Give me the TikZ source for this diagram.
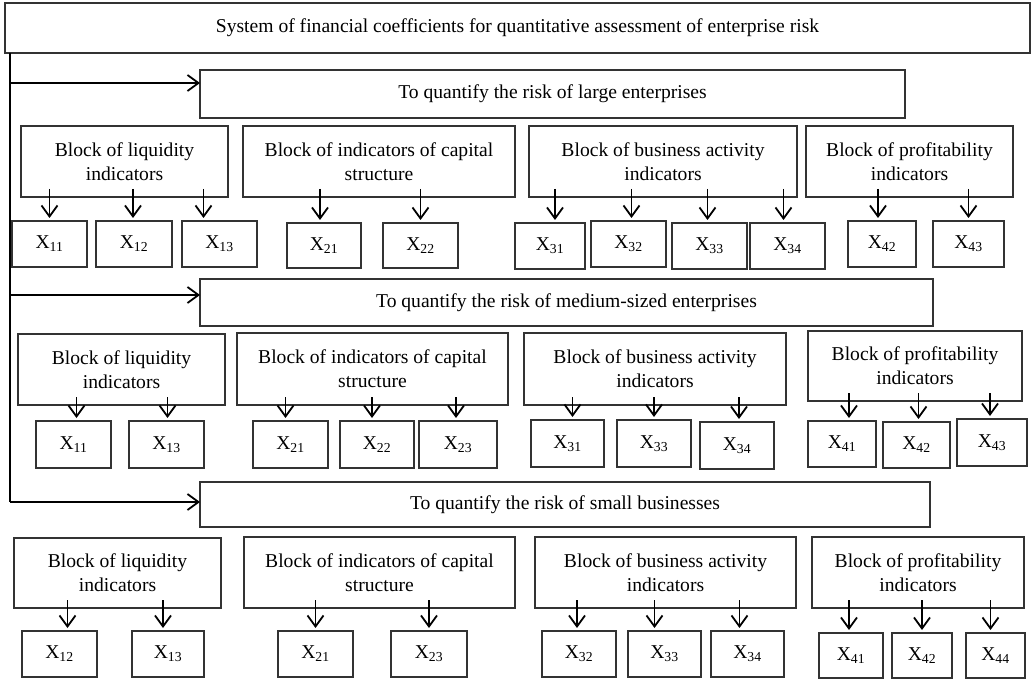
\documentclass[tikz,border=0pt]{standalone}
\usepackage{fontspec}
\setmainfont{Liberation Serif}
\usetikzlibrary{arrows.meta,calc}
\newcommand\bx[6]{\node[box,minimum width={#4-#2},minimum height={#5-#3}] (#1) at ({(#2+#4)/2},{(#3+#5)/2}) {#6};}
\newcommand\dn[3]{\draw[arr] ($(#2.north |- #1.south)+(#3,-8)$) -- ($(#2.north)+(#3,-3)$);}
\newcommand\xs[1]{X\textsubscript{#1}}
\begin{document}
\begin{tikzpicture}[x=1pt,y=-1pt,
  box/.style={draw=black!80,line width=1.1pt,inner sep=0pt,outer sep=0pt,align=center,
    font=\fontsize{19.6}{24}\selectfont},
  arr/.style={draw=black,line width=1.8pt,-{Straight Barb[length=11pt,width=16pt]}},
  conn/.style={draw=black,line width=1.8pt}]
\useasboundingbox (0,0) rectangle (1033,679);
% top and level boxes
\bx{top}{5}{3}{1030}{53}{System of financial coefficients for quantitative assessment of enterprise risk}
\bx{large}{200}{70}{905}{118}{To quantify the risk of large enterprises}
\bx{medium}{200}{279}{933}{326}{To quantify the risk of medium-sized enterprises}
\bx{small}{200}{482}{930}{527}{To quantify the risk of small businesses}
% connectors from the top box
\coordinate (v) at ($(top.south west)+(5,0)$);
\coordinate (a1) at ($(large.north west)+(0,13)$);
\coordinate (a2) at ($(medium.north west)+(0,16)$);
\coordinate (a3) at ($(small.north west)+(0,20)$);
\draw[conn] (v) -- (v |- a3);
\draw[arr] (v |- a1) -- (a1);
\draw[arr] (v |- a2) -- (a2);
\draw[arr] (v |- a3) -- (a3);
% row 1: large enterprises
\bx{lA}{21}{126}{228}{197}{Block of liquidity\\indicators}
\bx{cA}{243}{126}{515}{197}{Block of indicators of capital\\structure}
\bx{bA}{529}{126}{797}{197}{Block of business activity\\indicators}
\bx{pA}{806}{126}{1013}{197}{Block of profitability\\indicators}
\bx{xA11}{12}{221}{87}{267}{\xs{11}}
\bx{xA12}{96}{221}{172}{267}{\xs{12}}
\bx{xA13}{182}{221}{257}{267}{\xs{13}}
\bx{xA21}{287}{223}{361}{268}{\xs{21}}
\bx{xA22}{383}{223}{458}{268}{\xs{22}}
\bx{xA31}{515}{223}{585}{269}{\xs{31}}
\bx{xA32}{591}{221}{666}{267}{\xs{32}}
\bx{xA33}{672}{223}{747}{269}{\xs{33}}
\bx{xA34}{750}{223}{825}{269}{\xs{34}}
\bx{xA42}{848}{221}{916}{267}{\xs{42}}
\bx{xA43}{933}{221}{1004}{267}{\xs{43}}
\dn{lA}{xA11}{0}
\dn{lA}{xA12}{-1}
\dn{lA}{xA13}{-16}
\dn{cA}{xA21}{-4}
\dn{cA}{xA22}{0}
\dn{bA}{xA31}{5}
\dn{bA}{xA32}{3}
\dn{bA}{xA33}{-2}
\dn{bA}{xA34}{-4}
\dn{pA}{xA42}{-4}
\dn{pA}{xA43}{0}
% row 2: medium-sized enterprises
\bx{lB}{18}{334}{225}{405}{Block of liquidity\\indicators}
\bx{cB}{237}{333}{508}{405}{Block of indicators of capital\\structure}
\bx{bB}{524}{333}{786}{405}{Block of business activity\\indicators}
\bx{pB}{808}{331}{1022}{401}{Block of profitability\\indicators}
\bx{xB11}{36}{421}{111}{468}{\xs{11}}
\bx{xB13}{129}{421}{204}{468}{\xs{13}}
\bx{xB21}{253}{421}{328}{468}{\xs{21}}
\bx{xB22}{340}{421}{414}{468}{\xs{22}}
\bx{xB23}{419}{421}{497}{468}{\xs{23}}
\bx{xB31}{531}{420}{604}{467}{\xs{31}}
\bx{xB33}{617}{420}{691}{467}{\xs{33}}
\bx{xB34}{700}{422}{774}{469}{\xs{34}}
\bx{xB41}{808}{421}{876}{467}{\xs{41}}
\bx{xB42}{883}{422}{950}{468}{\xs{42}}
\bx{xB43}{957}{419}{1027}{466}{\xs{43}}
\dn{lB}{xB11}{3}
\dn{lB}{xB13}{1}
\dn{cB}{xB21}{-5}
\dn{cB}{xB22}{-5}
\dn{cB}{xB23}{-2}
\dn{bB}{xB31}{5}
\dn{bB}{xB33}{0}
\dn{bB}{xB34}{2}
\dn{pB}{xB41}{7}
\dn{pB}{xB42}{2}
\dn{pB}{xB43}{-2}
% row 3: small businesses
\bx{lC}{14}{538}{221}{608}{Block of liquidity\\indicators}
\bx{cC}{244}{537}{515}{608}{Block of indicators of capital\\structure}
\bx{bC}{535}{537}{796}{608}{Block of business activity\\indicators}
\bx{pC}{812}{537}{1024}{608}{Block of profitability\\indicators}
\bx{xC12}{22}{631}{97}{677}{\xs{12}}
\bx{xC13}{132}{631}{204}{677}{\xs{13}}
\bx{xC21}{278}{631}{353}{677}{\xs{21}}
\bx{xC23}{391}{631}{467}{677}{\xs{23}}
\bx{xC32}{542}{631}{616}{677}{\xs{32}}
\bx{xC33}{628}{631}{701}{677}{\xs{33}}
\bx{xC34}{711}{631}{784}{677}{\xs{34}}
\bx{xC41}{819}{633}{883}{678}{\xs{41}}
\bx{xC42}{892}{633}{952}{678}{\xs{42}}
\bx{xC44}{966}{633}{1025}{678}{\xs{44}}
\dn{lC}{xC12}{8}
\dn{lC}{xC13}{-5}
\dn{cC}{xC21}{0}
\dn{cC}{xC23}{0}
\dn{bC}{xC32}{-2}
\dn{bC}{xC33}{-10}
\dn{bC}{xC34}{-8}
\dn{pC}{xC41}{-2}
\dn{pC}{xC42}{0}
\dn{pC}{xC44}{-5}
\end{tikzpicture}
\end{document}
